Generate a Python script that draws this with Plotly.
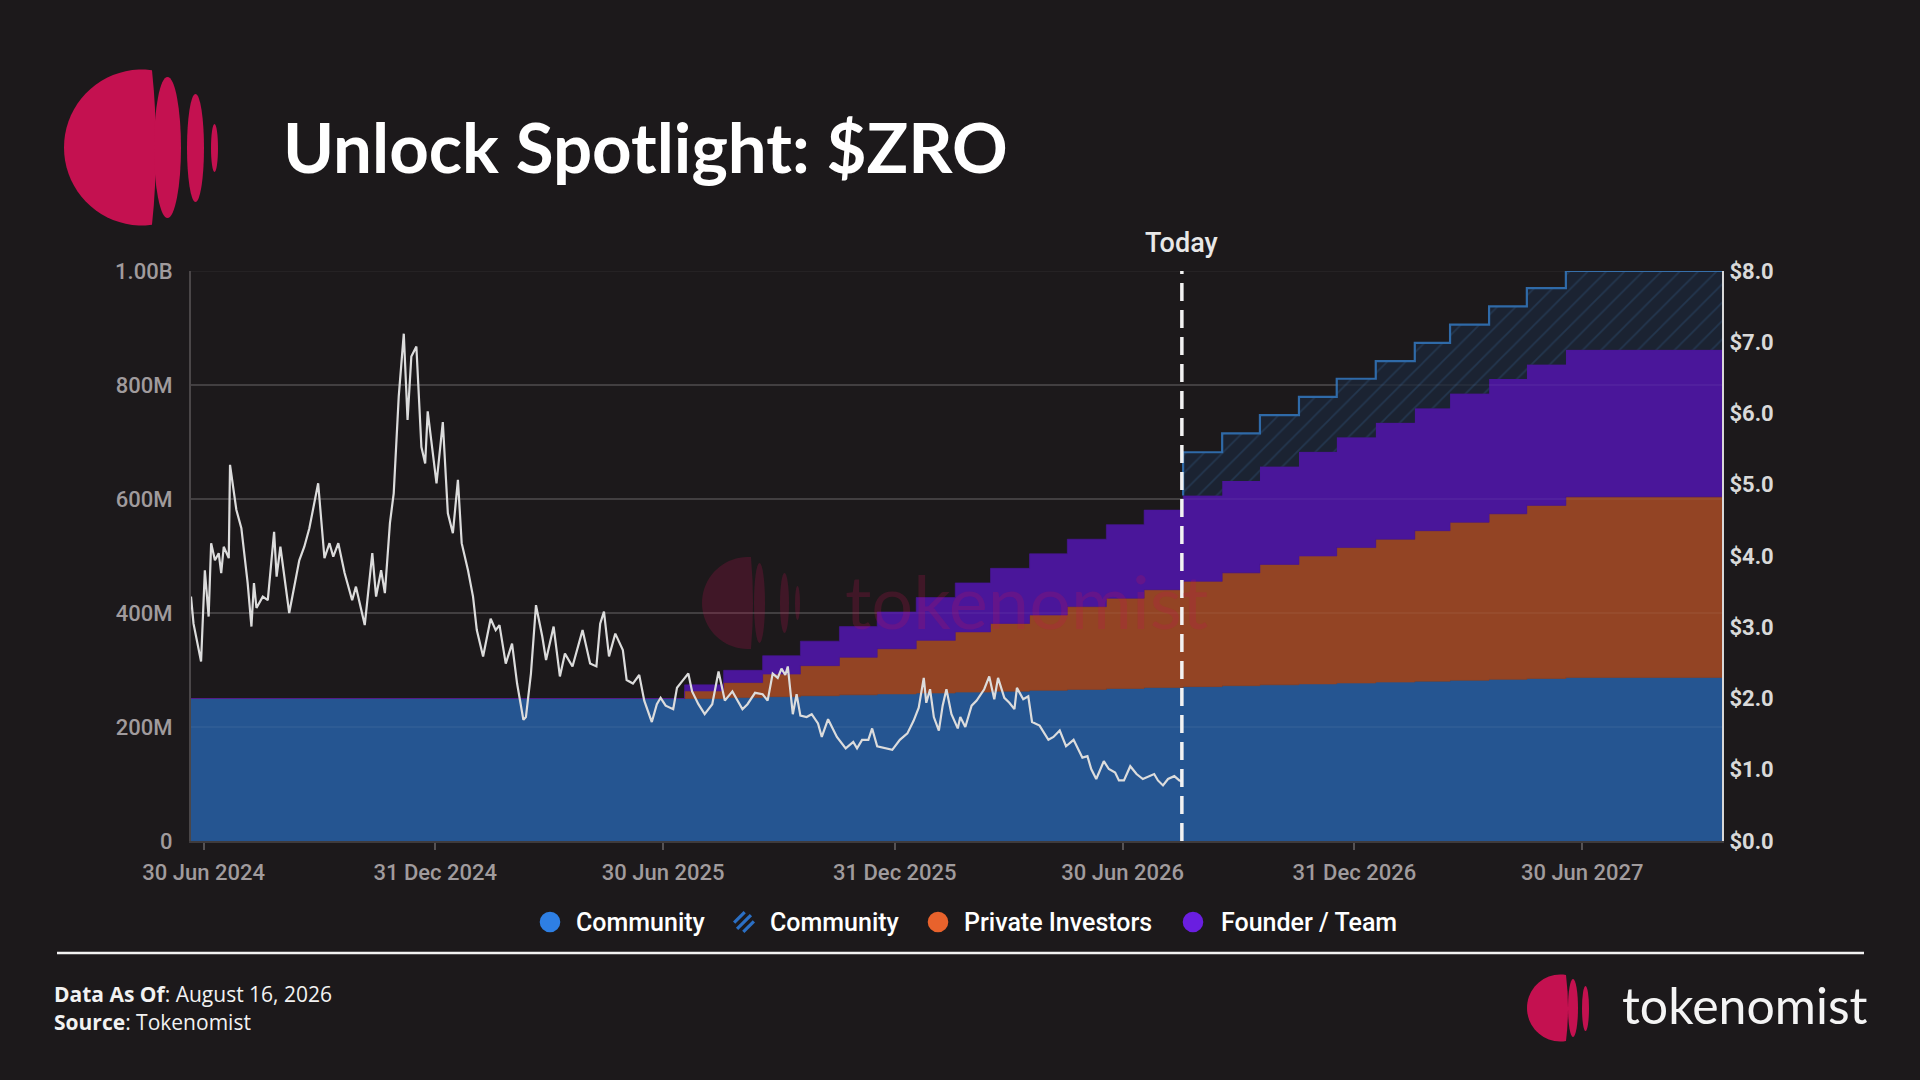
import math
import numpy as np
import pandas as pd
import plotly.graph_objects as go

# ---------------- data ----------------
tge_date = "2024-06-20"
x_start = "2024-06-20"
x_end = "2027-10-19"
today_date = "2026-08-16"

unlock_dates = [
    "2025-07-17", "2025-08-17", "2025-09-17", "2025-10-17", "2025-11-17", "2025-12-17",
    "2026-01-17", "2026-02-17", "2026-03-17", "2026-04-17", "2026-05-17", "2026-06-17",
    "2026-07-17", "2026-08-17", "2026-09-17", "2026-10-17", "2026-11-17", "2026-12-17",
    "2027-01-17", "2027-02-17", "2027-03-17", "2027-04-17", "2027-05-17", "2027-06-17",
]
community_start = 250.0  # M tokens before first monthly unlock
community_solid = [250.0, 251.6, 253.2, 254.8, 256.4, 258.0, 259.6, 261.2, 262.8, 264.4, 266.0, 267.6,
                   269.2, 270.8, 272.4, 274.0, 275.6, 277.2, 278.8, 280.4, 282.0, 283.6, 285.2, 287.0]
private_investors_cum = [13.2, 26.4, 39.6, 52.8, 66.0, 79.2, 92.4, 105.6, 118.8, 132.0, 145.2, 158.4,
                         171.6, 184.8, 198.0, 211.2, 224.4, 237.6, 250.8, 264.0, 277.2, 290.4, 303.6, 316.8]
founder_team_cum = [10.75, 21.5, 32.25, 43.0, 53.75, 64.5, 75.25, 86.0, 96.75, 107.5, 118.25, 129.0,
                    139.75, 150.5, 161.25, 172.0, 182.75, 193.5, 204.25, 215.0, 225.75, 236.5, 247.25, 258.0]
projected_first_index = 13  # Aug 2026 unlock (today)
community_projected_top = [682, 715, 747, 779, 811, 842, 874, 906, 938, 970, 1000]

price_days = [
    0, 2, 8, 11, 14, 16, 19, 22, 24, 26,
    30, 31, 36, 40, 45, 48, 50, 52, 57, 61,
    66, 68, 71, 74, 78, 86, 90, 94, 101, 106,
    110, 113, 117, 122, 128, 131, 138, 144, 147, 151,
    154, 158, 161, 165, 169, 172, 175, 179, 183, 186,
    188, 195, 200, 204, 208, 212, 215, 220, 224, 227,
    232, 238, 242, 245, 250, 255, 259, 264, 266, 270,
    274, 279, 282, 288, 293, 297, 303, 311, 317, 322,
    325, 328, 332, 337, 343, 346, 351, 356, 360, 366,
    370, 373, 377, 383, 386, 390, 395, 398, 403, 408,
    414, 419, 424, 430, 434, 438, 442, 448, 454, 458,
    462, 466, 469, 472, 474, 476, 478, 481, 484, 489,
    493, 498, 501, 506, 513, 520, 526, 529, 533, 538,
    541, 545, 552, 557, 563, 569, 574, 578, 582, 584,
    587, 590, 594, 597, 600, 604, 609, 611, 615, 620,
    624, 630, 634, 638, 641, 646, 650, 654, 656, 661,
    665, 668, 674, 681, 685, 690, 695, 701, 708, 712,
    715, 719, 725, 729, 734, 737, 741, 746, 751, 756,
    765, 768, 772, 776, 781, 785, 787,
]
price_usd = [
    3.43, 3.05, 2.52, 3.80, 3.15, 4.18, 3.94, 4.04, 3.76, 4.13,
    3.97, 5.28, 4.65, 4.39, 3.62, 3.01, 3.62, 3.27, 3.43, 3.38,
    4.34, 3.71, 4.13, 3.76, 3.20, 3.94, 4.13, 4.39, 5.02, 3.97,
    4.18, 3.99, 4.18, 3.76, 3.38, 3.57, 3.03, 4.04, 3.43, 3.80,
    3.48, 4.46, 4.88, 6.24, 7.12, 5.91, 6.80, 6.94, 5.53, 5.30,
    6.03, 5.02, 5.88, 4.60, 4.32, 5.07, 4.18, 3.80, 3.43, 2.96,
    2.59, 3.12, 2.96, 3.03, 2.49, 2.77, 2.21, 1.70, 1.74, 2.35,
    3.31, 2.87, 2.54, 3.01, 2.31, 2.63, 2.45, 2.96, 2.49, 2.45,
    3.05, 3.22, 2.59, 2.91, 2.68, 2.26, 2.21, 2.33, 1.97, 1.67,
    1.92, 2.01, 1.90, 1.85, 2.15, 2.24, 2.35, 2.10, 1.92, 1.78,
    1.92, 2.38, 1.97, 2.10, 1.97, 1.85, 1.92, 2.08, 2.06, 1.97,
    2.35, 2.29, 2.42, 2.33, 2.45, 2.06, 1.78, 2.06, 1.76, 1.74,
    1.78, 1.65, 1.46, 1.71, 1.46, 1.30, 1.39, 1.30, 1.42, 1.42,
    1.58, 1.33, 1.30, 1.28, 1.42, 1.51, 1.69, 1.87, 2.29, 1.94,
    2.13, 1.74, 1.55, 1.90, 2.13, 1.78, 1.58, 1.74, 1.60, 1.90,
    1.97, 2.13, 2.31, 1.99, 2.29, 2.01, 1.94, 1.85, 2.15, 1.99,
    2.03, 1.67, 1.62, 1.42, 1.46, 1.55, 1.33, 1.42, 1.17, 1.19,
    1.01, 0.87, 1.12, 1.01, 0.96, 0.85, 0.85, 1.05, 0.94, 0.87,
    0.94, 0.85, 0.78, 0.87, 0.91, 0.85, 0.84,
]

y_tickvals = [0, 200, 400, 600, 800, 1000]
y_ticktext = ["0", "200M", "400M", "600M", "800M", "1.00B"]
y2_tickvals = [0, 1, 2, 3, 4, 5, 6, 7, 8]
y2_ticktext = ["$0.0", "$1.0", "$2.0", "$3.0", "$4.0", "$5.0", "$6.0", "$7.0", "$8.0"]
x_tickvals = ["2024-06-30", "2024-12-31", "2025-06-30", "2025-12-31", "2026-06-30", "2026-12-31", "2027-06-30"]
x_ticktext = ["30 Jun 2024", "31 Dec 2024", "30 Jun 2025", "31 Dec 2025", "30 Jun 2026", "31 Dec 2026", "30 Jun 2027"]
legend_labels = ["Community", "Community", "Private Investors", "Founder / Team"]

title_text = "Unlock Spotlight: $ZRO"
footer_date = "August 16, 2026"
footer_source = "Tokenomist"

# ---------------- style ----------------
BG = "#1c191b"
C_BLUE = "#255591"
C_ORANGE = "#934424"
C_PURPLE = "#4a169a"
C_HATCH_BG = "#1b2332"
C_HATCH_FG = "#2c4a6c"
C_HATCH_LINE = "#2f6aa8"
PINK = "#c41150"
W, H = 1920, 1080
L, R, T, B = 191, 1722, 271, 841


def PX(x):
    return (x - L) / (R - L)


def PY(y):
    return (B - y) / (B - T)


# ---------------- build step vertices ----------------
X = [x_start]
blue = [community_start]
orng = [0.0]
purp = [0.0]
pb, po, pp = community_start, 0.0, 0.0
for d, b, o, p in zip(unlock_dates, community_solid, private_investors_cum, founder_team_cum):
    X += [d, d]
    blue += [pb, b]
    orng += [po, o]
    purp += [pp, p]
    pb, po, pp = b, o, p
X.append(x_end)
blue.append(pb)
orng.append(po)
purp.append(pp)
blue = np.array(blue)
orange_top = blue + np.array(orng)
purple_top = orange_top + np.array(purp)

fig = go.Figure()

# community (solid)
fig.add_trace(go.Scatter(
    x=X + [x_end, x_start], y=list(blue) + [0, 0], fill="toself", fillcolor=C_BLUE,
    mode="lines", line=dict(width=0.6, color=C_BLUE), hoverinfo="skip", showlegend=False))
# private investors
fig.add_trace(go.Scatter(
    x=X + X[::-1], y=list(orange_top) + list(blue[::-1]), fill="toself", fillcolor=C_ORANGE,
    mode="lines", line=dict(width=0.6, color=C_ORANGE), hoverinfo="skip", showlegend=False))
# founder / team
fig.add_trace(go.Scatter(
    x=X + X[::-1], y=list(purple_top) + list(orange_top[::-1]), fill="toself", fillcolor=C_PURPLE,
    mode="lines", line=dict(width=0.6, color=C_PURPLE), hoverinfo="skip", showlegend=False))

# community (projected, hatched)
i0 = 2 + 2 * projected_first_index
hx = [X[i0], X[i0]]
hy = [purple_top[i0], community_projected_top[0]]
for j, k in enumerate(range(projected_first_index + 1, len(unlock_dates))):
    d = unlock_dates[k]
    hx += [d, d]
    hy += [community_projected_top[j], community_projected_top[j + 1]]
hx.append(x_end)
hy.append(community_projected_top[-1])
fig.add_trace(go.Scatter(
    x=hx + X[i0:][::-1], y=hy + list(purple_top[i0:][::-1]), fill="toself",
    fillcolor=C_HATCH_BG, mode="lines", line=dict(width=0),
    fillpattern=dict(shape="/", bgcolor=C_HATCH_BG, fgcolor=C_HATCH_FG, size=13, solidity=0.12),
    hoverinfo="skip", showlegend=False))
fig.add_trace(go.Scatter(
    x=hx, y=hy, mode="lines", line=dict(width=2.2, color=C_HATCH_LINE),
    hoverinfo="skip", showlegend=False))

# price line
price_dates = pd.Timestamp(tge_date) + pd.to_timedelta(price_days, unit="D")
fig.add_trace(go.Scatter(
    x=price_dates, y=price_usd, yaxis="y2", mode="lines",
    line=dict(color="#dcdcdc", width=2.2), hoverinfo="skip", showlegend=False))

# ---------------- shapes ----------------
shapes = []

# gridlines overlay (faint, above fills)
for v in y_tickvals[1:]:
    shapes.append(dict(type="line", xref="paper", yref="y", x0=0, x1=1, y0=v, y1=v,
                       line=dict(color="rgba(255,255,255,0.06)", width=1.5), layer="above"))

# today line
shapes.append(dict(type="line", xref="x", yref="paper", x0=today_date, x1=today_date, y0=0, y1=1,
                   line=dict(color="#f2f2f2", width=3.5, dash="18px,9px"), layer="above"))


def disc_path(cx, cy, r, xcut, bulge, n=40):
    th0 = math.acos(max(-1, min(1, (xcut - cx) / r)))
    pts = []
    for i in range(n + 1):
        th = th0 + (2 * math.pi - 2 * th0) * i / n
        pts.append((cx + r * math.cos(th), cy - r * math.sin(th)))
    s = "M {:.5f},{:.5f}".format(PX(pts[0][0]), PY(pts[0][1]))
    for (x, y) in pts[1:]:
        s += " L {:.5f},{:.5f}".format(PX(x), PY(y))
    s += " Q {:.5f},{:.5f} {:.5f},{:.5f} Z".format(PX(xcut + 2 * bulge), PY(cy), PX(pts[0][0]), PY(pts[0][1]))
    return s


def ell(x0, x1, y0, y1, color):
    return dict(type="circle", xref="paper", yref="paper", x0=PX(x0), x1=PX(x1), y0=PY(y1), y1=PY(y0),
                fillcolor=color, line=dict(width=0), layer="above")


def logo(cx, cy, r, xcut, bulge, stripes, color):
    out = [dict(type="path", xref="paper", yref="paper", path=disc_path(cx, cy, r, xcut, bulge),
                fillcolor=color, line=dict(width=0), layer="above")]
    for (a, b, c, d) in stripes:
        out.append(ell(a, b, c, d, color))
    return out


# header logo
shapes += logo(142, 147.5, 78, 152, 4,
               [(154, 181, 77, 218), (187, 204, 94, 202), (211, 218, 124, 172)], PINK)
# footer logo
shapes += logo(1560.5, 1008, 33.5, 1566, 2,
               [(1568, 1578, 979, 1037), (1582, 1589, 986, 1031)], PINK)
# watermark logo
WM = "rgba(196,17,80,0.22)"
shapes += logo(748, 603, 46, 751, 2,
               [(754, 765, 563, 643), (780, 789, 573, 633), (795, 800, 586, 620)], WM)

# separator
shapes.append(dict(type="line", xref="paper", yref="paper", x0=PX(57), x1=PX(1864), y0=PY(953), y1=PY(953),
                   line=dict(color="#f2f2f2", width=2.5)))

# legend markers
leg_y = 922
leg_r = 10.3
leg_icons = [550, 744, 938, 1193]
leg_text_x = [574, 768, 962, 1219]
leg_colors = ["#2e7fe4", None, "#e8622c", "#6a1ee0"]
for cx, col in zip(leg_icons, leg_colors):
    if col:
        shapes.append(dict(type="circle", xref="paper", yref="paper",
                           x0=PX(cx - leg_r), x1=PX(cx + leg_r), y0=PY(leg_y + leg_r), y1=PY(leg_y - leg_r),
                           fillcolor=col, line=dict(width=0)))
    else:
        for off in (-6.5, 0, 6.5):
            hl = math.sqrt(max(leg_r ** 2 - off ** 2, 0)) - 0.5
            ox, oy = cx + off / math.sqrt(2), leg_y + off / math.sqrt(2)
            dx, dy = hl / math.sqrt(2), -hl / math.sqrt(2)
            shapes.append(dict(type="line", xref="paper", yref="paper",
                               x0=PX(ox - dx), y0=PY(oy - dy), x1=PX(ox + dx), y1=PY(oy + dy),
                               line=dict(color="#2b6fc4", width=3.2)))

# ---------------- annotations ----------------
ann = []
ann.append(dict(text=title_text, x=PX(281), y=PY(146), xref="paper", yref="paper", xanchor="left",
                yanchor="middle", showarrow=False,
                font=dict(family="Lato", size=69, color="#ffffff", weight=700)))
ann.append(dict(text="Today", x=today_date, xref="x", y=PY(243), yref="paper", xanchor="center",
                yanchor="middle", showarrow=False,
                font=dict(family="Roboto", size=27, color="#e8e8e8", weight=500)))
for tx, lab in zip(leg_text_x, legend_labels):
    ann.append(dict(text=lab, x=PX(tx), y=PY(leg_y), xref="paper", yref="paper", xanchor="left",
                    yanchor="middle", showarrow=False,
                    font=dict(family="Roboto", size=25, color="#ffffff", weight=500)))
ann.append(dict(text="<b>Data As Of</b>: " + footer_date, x=PX(52), y=PY(994), xref="paper", yref="paper",
                xanchor="left", yanchor="middle", showarrow=False,
                font=dict(family="Open Sans", size=21, color="#f2f2f2")))
ann.append(dict(text="<b>Source</b>: " + footer_source, x=PX(52), y=PY(1022), xref="paper", yref="paper",
                xanchor="left", yanchor="middle", showarrow=False,
                font=dict(family="Open Sans", size=21, color="#f2f2f2")))
ann.append(dict(text="tokenomist", x=PX(1620), y=PY(1005), xref="paper", yref="paper",
                xanchor="left", yanchor="middle", showarrow=False,
                font=dict(family="Lato", size=50, color="#f4f4f4")))
ann.append(dict(text="tokenomist", x=PX(843), y=PY(600), xref="paper", yref="paper",
                xanchor="left", yanchor="middle", showarrow=False,
                font=dict(family="Lato", size=74, color=WM)))

tick_font_grey = dict(family="Roboto", size=22, color="#a09b9d", weight=500)

fig.update_layout(
    width=W, height=H,
    margin=dict(l=L, r=W - R, t=T, b=H - B, pad=0),
    paper_bgcolor=BG, plot_bgcolor=BG,
    showlegend=False,
    shapes=shapes, annotations=ann,
    xaxis=dict(type="date", range=[x_start, x_end], tickvals=x_tickvals, ticktext=x_ticktext,
               showgrid=False, zeroline=False, showline=True, linecolor="#3e3b3d", linewidth=2,
               ticks="outside", ticklen=7, tickwidth=1.5, tickcolor="#555254",
               tickfont=tick_font_grey, ticklabelstandoff=4),
    yaxis=dict(range=[0, 1000], tickvals=y_tickvals, ticktext=y_ticktext,
               showgrid=True, gridcolor="#3a3739", gridwidth=2, zeroline=False,
               showline=True, linecolor="#4a4648", linewidth=2,
               tickfont=tick_font_grey, ticklabelstandoff=12),
    yaxis2=dict(range=[0, 8], tickvals=y2_tickvals, ticktext=y2_ticktext, overlaying="y", side="right",
                showgrid=False, zeroline=False, showline=True, linecolor="#d8d8d8", linewidth=2,
                tickfont=dict(family="Roboto", size=22, color="#d9d9d9", weight=700), ticklabelstandoff=1),
)

fig.write_html("out.html", config={"displayModeBar": False},
               post_script="document.body.style.margin='0';document.body.style.overflow='hidden';document.body.style.background='%s';" % BG)
